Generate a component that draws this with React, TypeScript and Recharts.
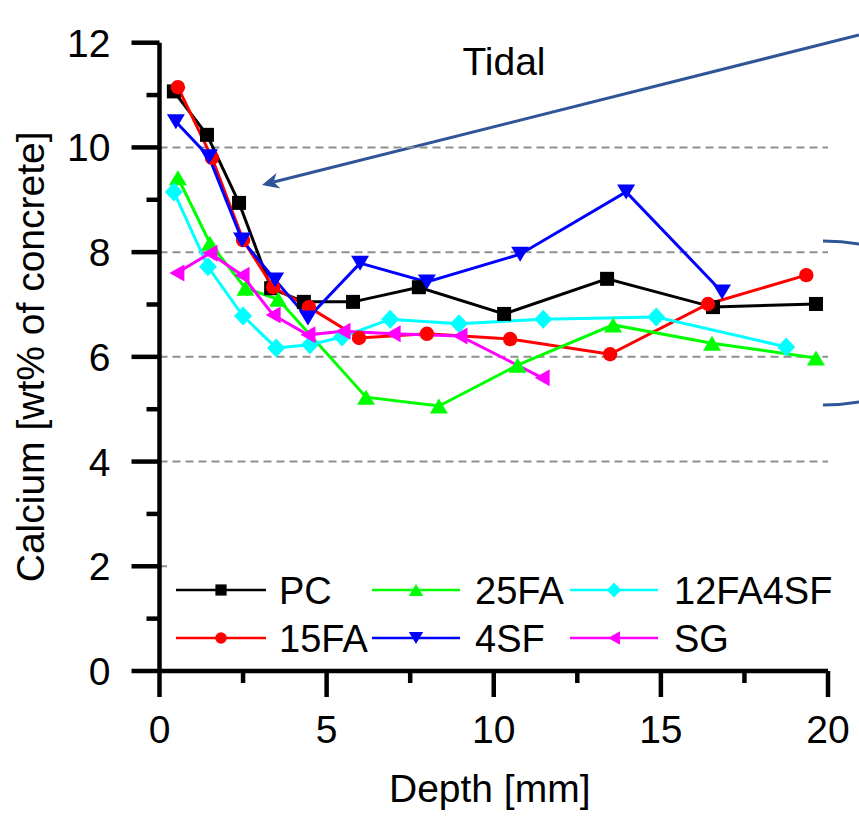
import { LineChart, Line, XAxis, YAxis, ReferenceLine, Legend, Customized } from 'recharts';

const FONT = '"Liberation Sans", Arial, Helvetica, sans-serif';
const ANN = '#2F5597';

// depth [mm] / calcium [wt% of concrete]
const pcDepth = [0.43, 1.42, 2.38, 3.34, 4.32, 5.79, 7.76, 10.31, 13.39, 16.56, 19.64];
const pcCa = [11.07, 10.24, 8.94, 7.31, 7.05, 7.05, 7.33, 6.82, 7.49, 6.95, 7.01];

const fa15Depth = [0.55, 1.57, 2.5, 3.4, 4.47, 5.97, 8.0, 10.49, 13.48, 16.41, 19.35];
const fa15Ca = [11.15, 9.8, 8.23, 7.33, 6.95, 6.36, 6.44, 6.34, 6.05, 7.01, 7.56];

const fa25Depth = [0.55, 1.51, 2.57, 3.55, 6.18, 8.36, 10.71, 13.57, 16.53, 19.64];
const fa25Ca = [9.42, 8.17, 7.31, 7.1, 5.23, 5.06, 5.84, 6.61, 6.26, 5.98];

const sf4Depth = [0.49, 1.48, 2.47, 3.46, 4.44, 6.0, 8.0, 10.79, 13.96, 16.83];
const sf4Ca = [10.49, 9.82, 8.23, 7.47, 6.74, 7.79, 7.43, 7.96, 9.15, 7.24];

const fa12sf4Depth = [0.43, 1.45, 2.5, 3.49, 4.5, 5.46, 6.9, 8.96, 11.48, 14.86, 18.75];
const fa12sf4Ca = [9.15, 7.72, 6.78, 6.17, 6.23, 6.38, 6.72, 6.63, 6.72, 6.76, 6.19];

const sgDepth = [0.52, 1.51, 2.47, 3.4, 4.44, 5.49, 6.99, 8.99, 11.45];
const sgCa = [7.6, 7.98, 7.56, 6.8, 6.42, 6.49, 6.44, 6.4, 5.6];

const xTicks = [0, 2.5, 5, 7.5, 10, 12.5, 15, 17.5, 20];
const yTicks = [0, 1, 2, 3, 4, 5, 6, 7, 8, 9, 10, 11, 12];
const gridValues = [2, 4, 6, 8, 10];

type Shape = 'square' | 'circle' | 'up' | 'down' | 'diamond' | 'left';

const toRows = (xs: number[], ys: number[]) => xs.map((d, i) => ({ depth: d, ca: ys[i] }));

const series: { name: string; color: string; shape: Shape; data: { depth: number; ca: number }[] }[] = [
  { name: 'PC', color: '#000000', shape: 'square', data: toRows(pcDepth, pcCa) },
  { name: '15FA', color: '#FF0000', shape: 'circle', data: toRows(fa15Depth, fa15Ca) },
  { name: '25FA', color: '#00FF00', shape: 'up', data: toRows(fa25Depth, fa25Ca) },
  { name: '4SF', color: '#0000FF', shape: 'down', data: toRows(sf4Depth, sf4Ca) },
  { name: '12FA4SF', color: '#00FFFF', shape: 'diamond', data: toRows(fa12sf4Depth, fa12sf4Ca) },
  { name: 'SG', color: '#FF00FF', shape: 'left', data: toRows(sgDepth, sgCa) },
];

const legendRows = [
  ['PC', '25FA', '12FA4SF'],
  ['15FA', '4SF', 'SG'],
];

function Marker({ shape, cx, cy, color, k = 1 }: { shape: Shape; cx: number; cy: number; color: string; k?: number }) {
  switch (shape) {
    case 'square': {
      const h = 7 * k;
      return <rect x={cx - h} y={cy - h} width={2 * h} height={2 * h} fill={color} />;
    }
    case 'circle':
      return <circle cx={cx} cy={cy} r={7.2 * k} fill={color} />;
    case 'up': {
      const w = 9 * k, h = 7.5 * k;
      return <polygon points={`${cx - w},${cy + h} ${cx + w},${cy + h} ${cx},${cy - h}`} fill={color} />;
    }
    case 'down': {
      const w = 9 * k, h = 7.5 * k;
      return <polygon points={`${cx - w},${cy - h} ${cx + w},${cy - h} ${cx},${cy + h}`} fill={color} />;
    }
    case 'diamond': {
      const w = 9 * k, h = 9.5 * k;
      return <polygon points={`${cx},${cy - h} ${cx + w},${cy} ${cx},${cy + h} ${cx - w},${cy}`} fill={color} />;
    }
    case 'left': {
      const w = 7.5 * k, h = 8.5 * k;
      return <polygon points={`${cx - w},${cy} ${cx + w},${cy - h} ${cx + w},${cy + h}`} fill={color} />;
    }
  }
  return null;
}

const Y_TICK_SIZE = 28;
const Y_TICK_MARGIN = 21;
const X_TICK_SIZE = 26;
const X_TICK_MARGIN = 18;

function YTick(props: any) {
  const { x, y, payload } = props;
  const v = payload.value as number;
  const major = v % 2 === 0;
  const axisX = x + Y_TICK_SIZE + Y_TICK_MARGIN;
  return (
    <g>
      <line x1={axisX - (major ? Y_TICK_SIZE : 13)} x2={axisX} y1={y} y2={y} stroke="#000" strokeWidth={4.5} />
      {major && (
        <text x={x} y={y} dy="0.36em" textAnchor="end" fontFamily={FONT} fontSize={39} fill="#000">
          {v}
        </text>
      )}
    </g>
  );
}

function XTick(props: any) {
  const { x, y, payload } = props;
  const v = payload.value as number;
  const major = v % 5 === 0;
  const axisY = y - X_TICK_SIZE - X_TICK_MARGIN;
  return (
    <g>
      <line x1={x} x2={x} y1={axisY} y2={axisY + (major ? X_TICK_SIZE : 12)} stroke="#000" strokeWidth={4.5} />
      {major && (
        <text x={x} y={y} dy="0.71em" textAnchor="middle" fontFamily={FONT} fontSize={39} fill="#000">
          {v}
        </text>
      )}
    </g>
  );
}

function LegendBox() {
  const colX = [[9, 99, 112], [205, 293, 308], [403, 491, 507]];
  const rowY = [28, 76];
  return (
    <svg width={680} height={100} style={{ display: 'block' }}>
      {legendRows.map((row, r) =>
        row.map((name, c) => {
          const s = series.find((q) => q.name === name)!;
          const [x1, x2, tx] = colX[c];
          const y = rowY[r];
          return (
            <g key={name}>
              <line x1={x1} x2={x2} y1={y} y2={y} stroke={s.color} strokeWidth={2.5} />
              <Marker shape={s.shape} cx={(x1 + x2) / 2} cy={y} color={s.color} k={0.8} />
              <text x={tx} y={y} dy="0.36em" fontFamily={FONT} fontSize={38} fill="#000">
                {name}
              </text>
            </g>
          );
        })
      )}
    </svg>
  );
}

function Annotations() {
  const tail = { x: 859, y: 35 };
  const tip = { x: 262, y: 185 };
  const dx = tip.x - tail.x, dy = tip.y - tail.y;
  const len = Math.hypot(dx, dy);
  const ux = dx / len, uy = dy / len;
  const nx = -uy, ny = ux;
  const hl = 17, hw = 8, notch = 12;
  const bx = tip.x - hl * ux, by = tip.y - hl * uy;
  const mx = tip.x - notch * ux, my = tip.y - notch * uy;
  return (
    <g>
      <text x={504} y={75} textAnchor="middle" fontFamily={FONT} fontSize={39} fill="#000">
        Tidal
      </text>
      <line x1={tail.x} y1={tail.y} x2={mx} y2={my} stroke={ANN} strokeWidth={3} />
      <polygon
        points={`${tip.x},${tip.y} ${bx + hw * nx},${by + hw * ny} ${mx},${my} ${bx - hw * nx},${by - hw * ny}`}
        fill={ANN}
      />
      <path d="M823 241 A134 82 0 0 1 823 405" fill="none" stroke={ANN} strokeWidth={3} />
    </g>
  );
}

export default function App() {
  return (
    <div style={{ position: 'absolute', left: 0, top: 0, background: '#fff' }}>
      <LineChart width={859} height={829} margin={{ top: 42.7, right: 31, left: 0, bottom: 0 }}>
        {gridValues.map((v) => (
          <ReferenceLine key={v} y={v} stroke="#8F8F8F" strokeWidth={2} strokeDasharray="8 5" />
        ))}
        <XAxis
          type="number"
          dataKey="depth"
          domain={[0, 20]}
          ticks={xTicks}
          interval={0}
          allowDataOverflow
          height={158}
          tickSize={X_TICK_SIZE}
          tickMargin={X_TICK_MARGIN}
          tickLine={false}
          tick={<XTick />}
          axisLine={{ stroke: '#000', strokeWidth: 4.5 }}
          label={{
            content: (p: any) => {
              const vb = p.viewBox;
              return (
                <text x={vb.x + vb.width / 2 - 4} y={vb.y + 131} textAnchor="middle" fontFamily={FONT} fontSize={39} fill="#000">
                  Depth [mm]
                </text>
              );
            },
          }}
        />
        <YAxis
          type="number"
          dataKey="ca"
          domain={[0, 12]}
          ticks={yTicks}
          interval={0}
          allowDataOverflow
          width={159.5}
          tickSize={Y_TICK_SIZE}
          tickMargin={Y_TICK_MARGIN}
          tickLine={false}
          tick={<YTick />}
          axisLine={{ stroke: '#000', strokeWidth: 4.5 }}
          label={{
            content: (p: any) => {
              const vb = p.viewBox;
              const cx = vb.x + 44;
              const cy = vb.y + vb.height / 2;
              return (
                <text
                  x={cx}
                  y={cy}
                  transform={`rotate(-90 ${cx} ${cy})`}
                  textAnchor="middle"
                  fontFamily={FONT}
                  fontSize={39}
                  fill="#000"
                >
                  Calcium [wt% of concrete]
                </text>
              );
            },
          }}
        />
        {series.map((s) => (
          <Line
            key={s.name}
            name={s.name}
            data={s.data}
            dataKey="ca"
            type="linear"
            stroke={s.color}
            strokeWidth={3}
            isAnimationActive={false}
            dot={(p: any) => (
              <Marker key={`${s.name}-${p.index}`} shape={s.shape} cx={p.cx} cy={p.cy} color={s.color} />
            )}
            activeDot={false}
          />
        ))}
        <Customized component={Annotations} />
        <Legend
          layout="horizontal"
          verticalAlign="middle"
          align="center"
          wrapperStyle={{ position: 'absolute', left: 167, top: 562, width: 680, height: 100, background: '#fff' }}
          content={() => <LegendBox />}
        />
      </LineChart>
    </div>
  );
}
